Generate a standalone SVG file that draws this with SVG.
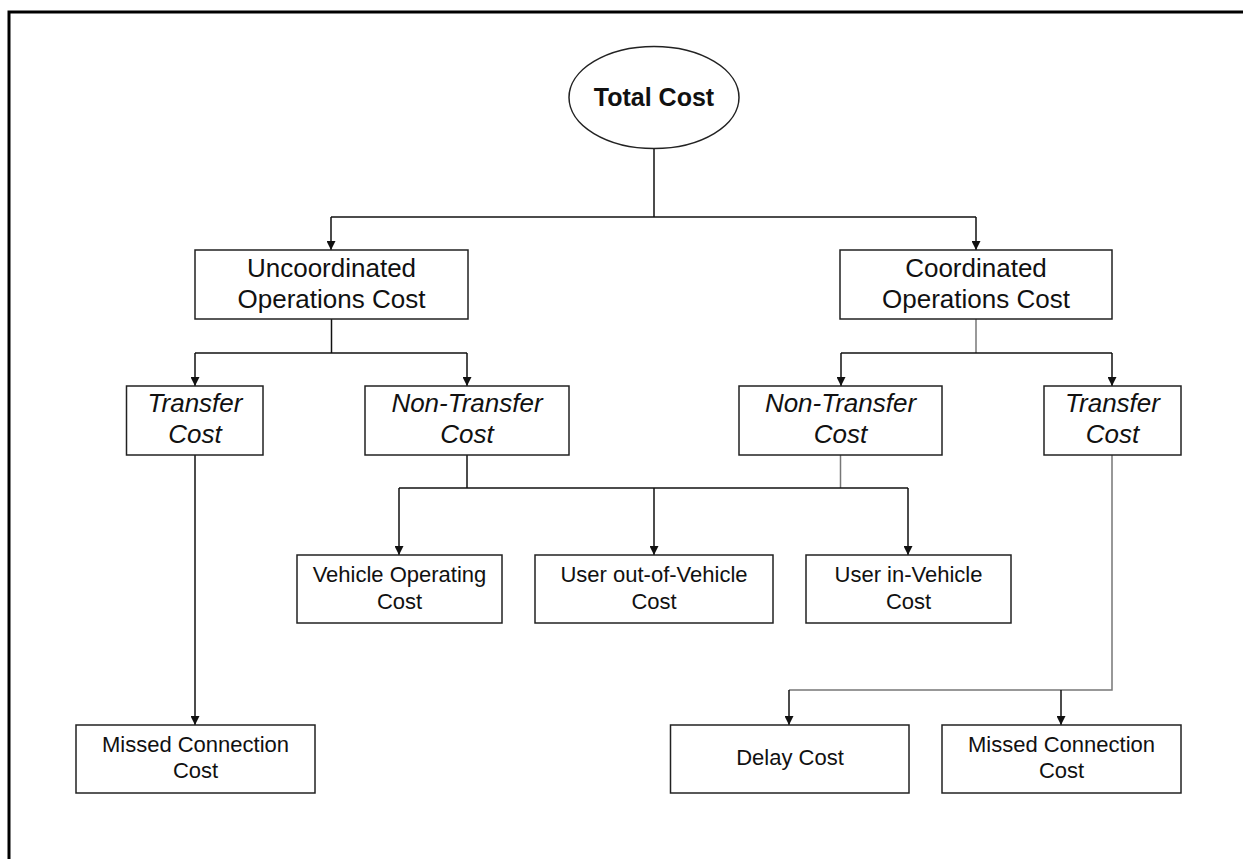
<svg xmlns="http://www.w3.org/2000/svg" width="1243" height="859" viewBox="0 0 1243 859">
<defs>
<style>
.box{fill:#fff;stroke:#222;stroke-width:1.5}
.t{font-family:"Liberation Sans",Arial,sans-serif;fill:#111;text-anchor:middle}
.l1{font-size:26px}
.it{font-size:26px;font-style:italic}
.l4{font-size:22px}
.c{fill:none;stroke:#111;stroke-width:1.5}
.g{fill:none;stroke:#777;stroke-width:1.5}
</style>
<marker id="ah" viewBox="0 0 10 10" refX="10" refY="5" markerWidth="9" markerHeight="9" markerUnits="userSpaceOnUse" orient="auto">
<path d="M0,0 L10,5 L0,10 z" fill="#111"/>
</marker>
</defs>
<rect width="1243" height="859" fill="#fff"/>
<path d="M9,859 V12 H1243" fill="none" stroke="#000" stroke-width="3"/>

<g id="connectors">
<path class="c" d="M654,148 V217"/>
<path class="c" d="M331,217 H976"/>
<path class="c" d="M331,217 V250" marker-end="url(#ah)"/>
<path class="c" d="M976,217 V250" marker-end="url(#ah)"/>

<path class="c" d="M331.5,319 V353"/>
<path class="c" d="M195,353 H467"/>
<path class="c" d="M195,353 V386" marker-end="url(#ah)"/>
<path class="c" d="M467,353 V386" marker-end="url(#ah)"/>

<path class="g" d="M976,319 V353"/>
<path class="c" d="M841,353 H1112"/>
<path class="c" d="M841,353 V386" marker-end="url(#ah)"/>
<path class="c" d="M1112,353 V386" marker-end="url(#ah)"/>

<path class="c" d="M467,455 V488"/>
<path class="g" d="M840.5,455 V488"/>
<path class="c" d="M399,488 H908"/>
<path class="c" d="M399,488 V555" marker-end="url(#ah)"/>
<path class="c" d="M654,488 V555" marker-end="url(#ah)"/>
<path class="c" d="M908,488 V555" marker-end="url(#ah)"/>

<path class="c" d="M195,455 V725" marker-end="url(#ah)"/>

<path class="g" d="M1112,455 V690 H789"/>
<path class="c" d="M789,690 V725" marker-end="url(#ah)"/>
<path class="c" d="M1061,690 V725" marker-end="url(#ah)"/>
</g>

<g id="total">
<ellipse cx="654" cy="97.5" rx="85" ry="51" fill="#fff" stroke="#222" stroke-width="1.5"/>
<text class="t" x="654" y="106" font-size="25" font-weight="bold">Total Cost</text>
</g>

<g id="uncoordinated">
<rect class="box" x="195" y="250" width="273" height="69"/>
<text class="t l1" x="331.5" y="277">Uncoordinated</text>
<text class="t l1" x="331.5" y="308">Operations Cost</text>
</g>

<g id="coordinated">
<rect class="box" x="840" y="250" width="272" height="69"/>
<text class="t l1" x="976" y="277">Coordinated</text>
<text class="t l1" x="976" y="308">Operations Cost</text>
</g>

<g id="transfer-left">
<rect class="box" x="126.5" y="386" width="136.5" height="69"/>
<text class="t it" x="195" y="412">Transfer</text>
<text class="t it" x="195" y="443">Cost</text>
</g>

<g id="nontransfer-left">
<rect class="box" x="365" y="386" width="204" height="69"/>
<text class="t it" x="467" y="412">Non-Transfer</text>
<text class="t it" x="467" y="443">Cost</text>
</g>

<g id="nontransfer-right">
<rect class="box" x="739" y="386" width="203" height="69"/>
<text class="t it" x="840.5" y="412">Non-Transfer</text>
<text class="t it" x="840.5" y="443">Cost</text>
</g>

<g id="transfer-right">
<rect class="box" x="1044" y="386" width="137" height="69"/>
<text class="t it" x="1112.5" y="412">Transfer</text>
<text class="t it" x="1112.5" y="443">Cost</text>
</g>

<g id="vehicle-operating">
<rect class="box" x="297" y="555" width="205" height="68"/>
<text class="t l4" x="399.5" y="582">Vehicle Operating</text>
<text class="t l4" x="399.5" y="609">Cost</text>
</g>

<g id="user-out">
<rect class="box" x="535" y="555" width="238" height="68"/>
<text class="t l4" x="654" y="582">User out-of-Vehicle</text>
<text class="t l4" x="654" y="609">Cost</text>
</g>

<g id="user-in">
<rect class="box" x="806" y="555" width="205" height="68"/>
<text class="t l4" x="908.5" y="582">User in-Vehicle</text>
<text class="t l4" x="908.5" y="609">Cost</text>
</g>

<g id="missed-left">
<rect class="box" x="76" y="725" width="239" height="68"/>
<text class="t l4" x="195.5" y="752">Missed Connection</text>
<text class="t l4" x="195.5" y="778">Cost</text>
</g>

<g id="delay">
<rect class="box" x="670.5" y="725" width="238.5" height="68"/>
<text class="t l4" x="790" y="765">Delay Cost</text>
</g>

<g id="missed-right">
<rect class="box" x="942" y="725" width="239" height="68"/>
<text class="t l4" x="1061.5" y="752">Missed Connection</text>
<text class="t l4" x="1061.5" y="778">Cost</text>
</g>
</svg>
